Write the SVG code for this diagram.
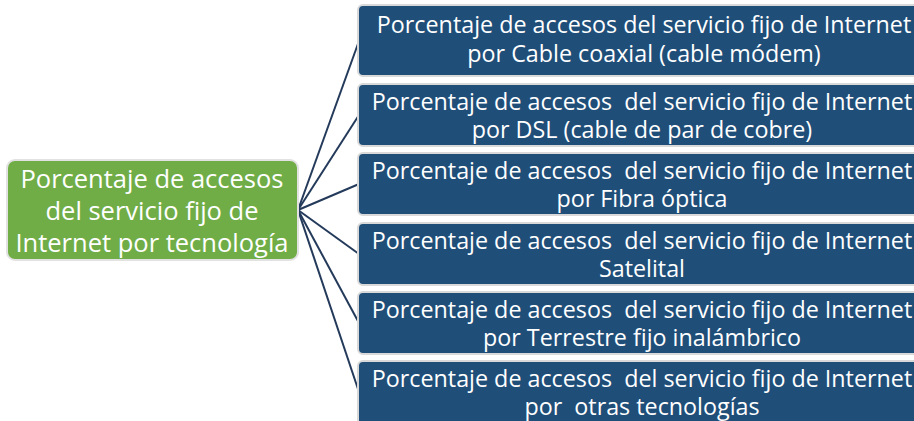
<svg xmlns="http://www.w3.org/2000/svg" width="914" height="421" viewBox="0 0 914 421">
<style>
.c{stroke:#243A5A;stroke-width:2;fill:none}
.b{fill:#1F4E79;stroke:#D9D9D9;stroke-width:2}
.t{font-family:"Open Sans","Liberation Sans",sans-serif;font-size:23.3px;fill:#fff;text-anchor:middle;white-space:pre}
.g{fill:#70AD47;stroke:#E2E2E2;stroke-width:2}
.gt{font-family:"Open Sans","Liberation Sans",sans-serif;font-size:25.5px;fill:#fff;text-anchor:middle}
</style>
<rect width="914" height="421" fill="#fff"/>
<g id="connectors">
<line class="c" x1="298" y1="210" x2="359" y2="41"/>
<line class="c" x1="298" y1="210" x2="359" y2="115"/>
<line class="c" x1="298" y1="210" x2="359" y2="184"/>
<line class="c" x1="298" y1="210" x2="359" y2="254"/>
<line class="c" x1="298" y1="210" x2="359" y2="323"/>
<line class="c" x1="298" y1="210" x2="359" y2="392"/>
</g>
<g id="root">
<rect class="g" x="7" y="160" width="291" height="100" rx="8"/>
<text class="gt" x="152" y="188">Porcentaje de accesos</text>
<text class="gt" x="152" y="220">del servicio fijo de</text>
<text class="gt" x="152" y="252">Internet por tecnología</text>
</g>
<g id="n1">
<rect class="b" x="358" y="5" width="580" height="71" rx="5"/>
<text class="t" x="644" y="33">Porcentaje de accesos del servicio fijo de Internet</text>
<text class="t" x="644" y="62">por Cable coaxial (cable módem)</text>
</g>
<g id="n2">
<rect class="b" x="358" y="84" width="580" height="62" rx="5"/>
<text class="t" x="642" y="110">Porcentaje de accesos  del servicio fijo de Internet</text>
<text class="t" x="642" y="138">por DSL (cable de par de cobre)</text>
</g>
<g id="n3">
<rect class="b" x="358" y="153" width="580" height="62" rx="5"/>
<text class="t" x="642" y="179">Porcentaje de accesos  del servicio fijo de Internet</text>
<text class="t" x="642" y="207">por Fibra óptica</text>
</g>
<g id="n4">
<rect class="b" x="358" y="223" width="580" height="62" rx="5"/>
<text class="t" x="642" y="249">Porcentaje de accesos  del servicio fijo de Internet</text>
<text class="t" x="642" y="277">Satelital</text>
</g>
<g id="n5">
<rect class="b" x="358" y="292" width="580" height="62" rx="5"/>
<text class="t" x="642" y="318">Porcentaje de accesos  del servicio fijo de Internet</text>
<text class="t" x="642" y="346">por Terrestre fijo inalámbrico</text>
</g>
<g id="n6">
<rect class="b" x="358" y="361" width="580" height="70" rx="5"/>
<text class="t" x="642" y="387">Porcentaje de accesos  del servicio fijo de Internet</text>
<text class="t" x="642" y="415">por  otras tecnologías</text>
</g>
</svg>
